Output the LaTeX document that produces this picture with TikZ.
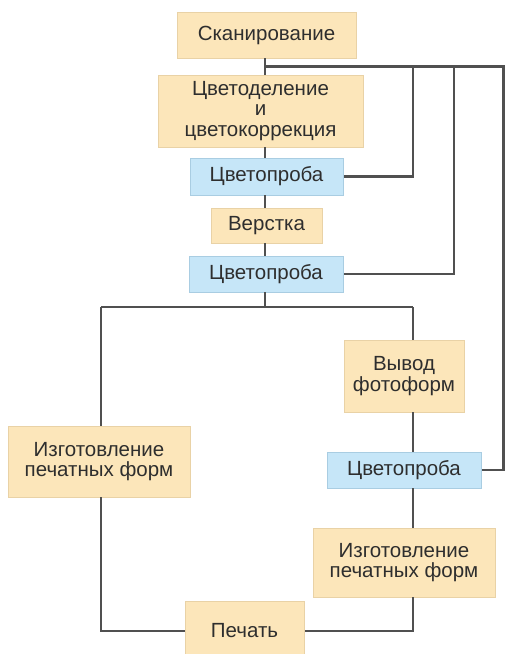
\documentclass[tikz,border=0pt]{standalone}
\usepackage{fontspec}
\setmainfont{Liberation Sans}
\definecolor{ofill}{HTML}{FCE6BA}
\definecolor{odraw}{HTML}{E9D2A6}
\definecolor{bfill}{HTML}{C6E6F8}
\definecolor{bdraw}{HTML}{A9CDE2}
\definecolor{lcol}{HTML}{505050}
\definecolor{tcol}{HTML}{2E2E2E}
\begin{document}
\begin{tikzpicture}[x=1pt,y=-1pt,
  box/.style={draw=odraw,fill=ofill,line width=1pt,inner sep=0pt,align=center,
    font=\fontsize{20.5}{20.5}\selectfont,text=tcol},
  obox/.style={box},
  bbox/.style={box,draw=bdraw,fill=bfill},
  conn/.style={draw=lcol,line width=2.3pt}]
\useasboundingbox (0,0) rectangle (505,654);
\clip (0,0) rectangle (505,654);
\node[obox,minimum width=179pt,minimum height=46pt] (scan) at (266.5,35) {Сканирование};
\node[obox,minimum width=205pt,minimum height=72pt] (sep) at (260.5,111) {Цветоделение\\и\\цветокоррекция};
\node[bbox,minimum width=153pt,minimum height=37pt] (cp1) at (266.5,176.5) {Цветопроба};
\node[obox,minimum width=111pt,minimum height=35pt] (verst) at (266.5,225.5) {Верстка};
\node[bbox,minimum width=154pt,minimum height=36pt] (cp2) at (266,274) {Цветопроба};
\node[obox,minimum width=120pt,minimum height=72pt] (vyvod) at (404,376) {Вывод\\фотоформ};
\node[obox,minimum width=182pt,minimum height=71pt] (izgL) at (99,461.5) {Изготовление\\печатных форм};
\node[bbox,minimum width=154pt,minimum height=36pt] (cp3) at (404,470) {Цветопроба};
\node[obox,minimum width=182pt,minimum height=69pt] (izgR) at (404,562.5) {Изготовление\\печатных форм};
\node[obox,minimum width=119pt,minimum height=60pt] (pech) at (244.5,631) {Печать};
\coordinate (top) at (265,66.5);
\coordinate (bA) at (413,66.5);
\coordinate (bB) at (454,66.5);
\coordinate (bC) at (503.5,66.5);
\coordinate (split) at (265,307);
\coordinate (sL) at (101,307);
\coordinate (sR) at (413,307);
\draw[conn] (265,58) -- (265,75);
\draw[conn] (top) -- (bC) -- (bC |- cp3.east) -- (cp3.east);
\draw[conn] (bA) |- (cp1.east);
\draw[conn] (bB) |- (cp2.east);
\draw[conn] (265,147) -- (265,158);
\draw[conn] (265,195) -- (265,208);
\draw[conn] (265,243) -- (265,256);
\draw[conn] (265,292) -- (split);
\draw[conn] (sL) -- (sR);
\draw[conn] (sL) -- (sL |- izgL.north);
\draw[conn] (sR) -- (sR |- vyvod.north);
\draw[conn] (413,412) -- (413,452);
\draw[conn] (413,488) -- (413,528);
\draw[conn] (101,497) |- (pech.west);
\draw[conn] (413,597) |- (pech.east);
\end{tikzpicture}
\end{document}
